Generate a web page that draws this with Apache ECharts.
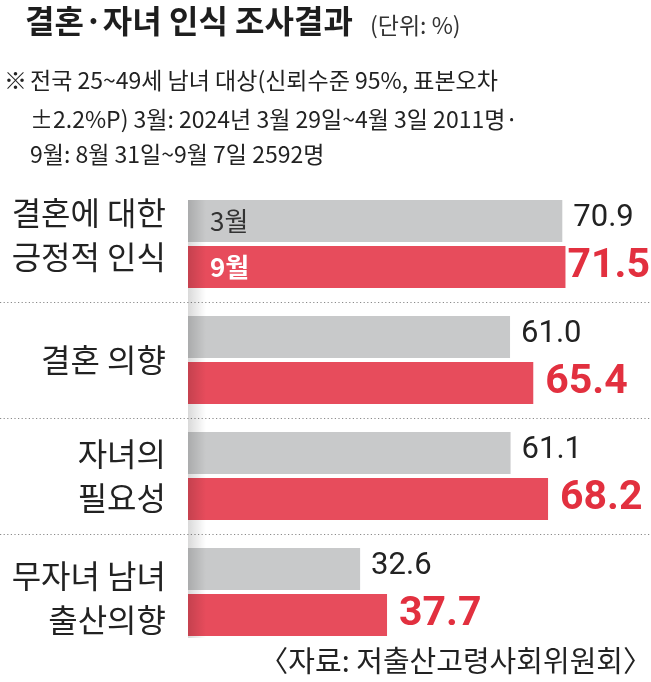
<!DOCTYPE html>
<html>
<head>
<meta charset="utf-8">
<script src="https://cdn.jsdelivr.net/npm/echarts@6/dist/echarts.min.js"></script>
<style>
html,body{margin:0;padding:0;background:#fff;}
#chart{width:651px;height:682px;}
</style>
</head>
<body>
<div id="chart"></div>
<script>
const titleText = '결혼·자녀 인식 조사결과';
const unitText = '(단위: %)';
const noteMark = '※';
const noteLines = [
  '전국 25~49세 남녀 대상(신뢰수준 95%, 표본오차',
  '±2.2%P) 3월: 2024년 3월 29일~4월 3일 2011명·',
  '9월: 8월 31일~9월 7일 2592명'
];
const sourceText = '〈자료: 저출산고령사회위원회〉';

const categories = ['결혼에 대한\n긍정적 인식', '결혼 의향', '자녀의\n필요성', '무자녀 남녀\n출산의향'];
const seriesNames = ['3월', '9월'];
const marchValues = [70.9, 61.0, 61.1, 32.6];
const septValues = [71.5, 65.4, 68.2, 37.7];

const KR = '"Noto Sans CJK KR", "Noto Sans", sans-serif';
const NUM = 'Roboto, "Noto Sans", sans-serif';

const GRAY = '#c8c9ca';
const RED = '#e74c5c';
const RED_TEXT = '#e2303f';

const chart = echarts.init(document.getElementById('chart'), null, {renderer: 'canvas'});

function txt(text, x, y, size, opts) {
  opts = opts || {};
  return {
    type: 'text', x: x, y: y, z: 100,
    style: {
      text: text,
      fontSize: size,
      fontFamily: opts.family || KR,
      fontWeight: opts.weight || 'normal',
      fill: opts.fill || '#222',
      align: opts.align || 'left',
      verticalAlign: 'middle',
      textAlign: opts.align || 'left',
      textVerticalAlign: 'middle'
    }
  };
}

const graphics = [
  txt(titleText, 25, 21, 32, {weight: 'bold', fill: '#1e1e1e'}),
  txt(unitText, 370, 25, 23, {fill: '#333'}),
  txt(noteMark, 4, 80, 23, {fill: '#222'}),
  txt(noteLines[0], 30, 80, 23),
  txt(noteLines[1], 30, 119, 23),
  txt(noteLines[2], 30, 154, 23),
  txt(sourceText, 652, 661, 29, {align: 'right', fill: '#222'}),
  {
    type: 'rect', z: 50, silent: true,
    shape: {x: 188, y: 200, width: 18, height: 438},
    style: {
      fill: new echarts.graphic.LinearGradient(0, 0, 1, 0, [
        {offset: 0, color: 'rgba(0,0,0,0.15)'},
        {offset: 1, color: 'rgba(0,0,0,0)'}
      ])
    }
  }
];

// category label formatter: small spacer lines nudge the first and last labels
function catLabel(value, index) {
  const body = value.split('\n').map(l => '{a|' + l + '}').join('\n');
  if (index === 0) return body + '\n{s|\u00a0}';
  if (index === 3) return '{t|\u00a0}\n' + body;
  return body;
}

const septData = septValues.map((v, i) => i === 0
  ? {value: v, label: {distance: 2}}
  : v);

const option = {
  backgroundColor: '#fff',
  animation: false,
  grid: [
    {left: 188, right: 0, top: 186, height: 464, outerBoundsMode: 'none'},
    {left: 0, right: 0, top: 186, height: 464, outerBoundsMode: 'none'}
  ],
  xAxis: [
    {type: 'value', gridIndex: 0, min: 0, max: 87.7, show: false, splitLine: {show: false}},
    {type: 'value', gridIndex: 1, min: 0, max: 1, show: false, splitLine: {show: false}}
  ],
  yAxis: [
    {
      type: 'category', gridIndex: 0, data: categories, inverse: true,
      axisLine: {show: false}, axisTick: {show: false},
      axisLabel: {
        margin: 22, fontSize: 32, lineHeight: 44, color: '#222',
        fontFamily: KR, align: 'right',
        formatter: catLabel,
        rich: {
          a: {fontSize: 32, lineHeight: 44, color: '#222', fontFamily: KR, align: 'right'},
          s: {fontSize: 8, lineHeight: 18},
          t: {fontSize: 8, lineHeight: 12}
        }
      },
      splitLine: {show: false}
    },
    {
      type: 'category', gridIndex: 0, data: categories, inverse: true, show: false,
      splitLine: {show: false}
    },
    {
      type: 'category', gridIndex: 1, data: categories, inverse: true,
      axisLine: {show: false}, axisTick: {show: false}, axisLabel: {show: false},
      splitLine: {
        show: true, showMinLine: false, showMaxLine: false,
        lineStyle: {color: '#8a8a8a', width: 1.2, type: [1.2, 2.4]}
      }
    }
  ],
  series: [
    {
      name: seriesNames[0], type: 'bar', xAxisIndex: 0, yAxisIndex: 0,
      data: marchValues, barWidth: 42, barGap: '10%',
      itemStyle: {color: GRAY},
      label: {
        show: true, position: 'right', distance: 11, offset: [0, -3],
        formatter: p => p.value.toFixed(1),
        fontSize: 31, color: '#222', fontFamily: NUM
      }
    },
    {
      name: seriesNames[1], type: 'bar', xAxisIndex: 0, yAxisIndex: 0,
      data: septData, barWidth: 42, barGap: '10%',
      itemStyle: {color: RED},
      label: {
        show: true, position: 'right', distance: 12,
        formatter: p => p.value.toFixed(1),
        fontSize: 41, fontWeight: 'bold', color: RED_TEXT, fontFamily: NUM
      }
    },
    {
      name: seriesNames[0] + '_label', type: 'bar', xAxisIndex: 0, yAxisIndex: 1, silent: true, z: 60,
      data: marchValues, barWidth: 42, barGap: '10%',
      itemStyle: {color: 'rgba(0,0,0,0)'},
      label: {
        show: true, position: 'insideLeft', distance: 22,
        formatter: p => p.dataIndex === 0 ? seriesNames[0] : '',
        fontSize: 26, color: '#333', fontFamily: KR
      }
    },
    {
      name: seriesNames[1] + '_label', type: 'bar', xAxisIndex: 0, yAxisIndex: 1, silent: true, z: 60,
      data: septValues, barWidth: 42, barGap: '10%',
      itemStyle: {color: 'rgba(0,0,0,0)'},
      label: {
        show: true, position: 'insideLeft', distance: 22,
        formatter: p => p.dataIndex === 0 ? seriesNames[1] : '',
        fontSize: 26, fontWeight: 'bold', color: '#fff', fontFamily: KR
      }
    }
  ],
  graphic: graphics
};

chart.setOption(option);
</script>
</body>
</html>
